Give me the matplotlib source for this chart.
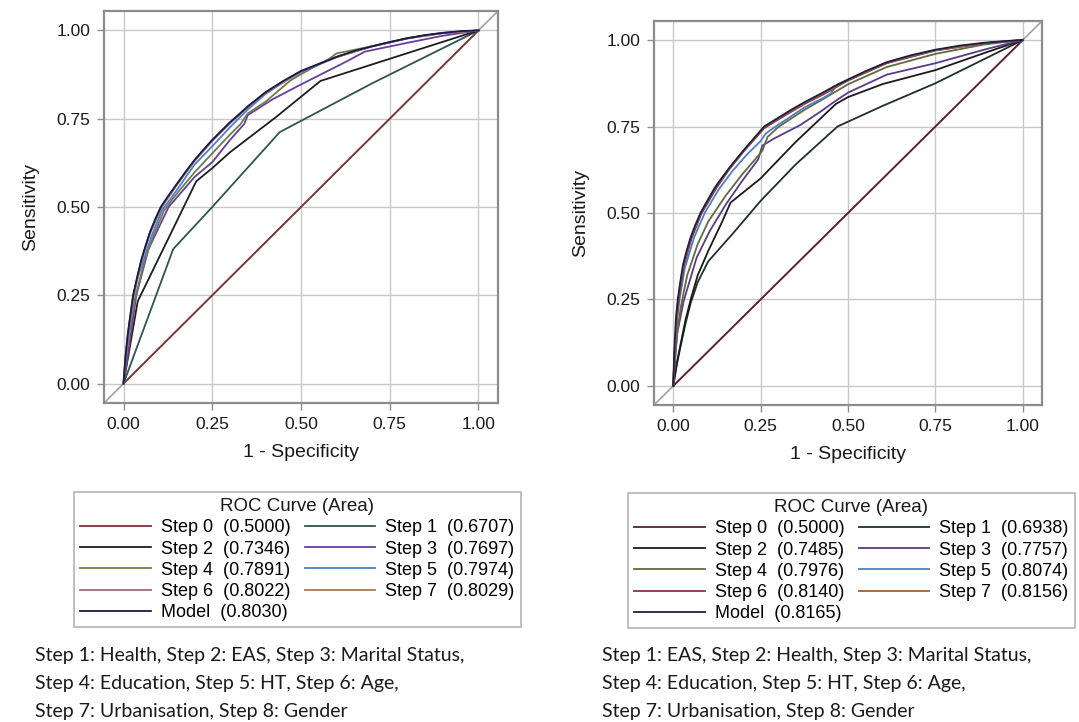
import matplotlib
matplotlib.use("Agg")
import matplotlib.pyplot as plot
import numpy as np

plot.rcParams["font.family"] = ["Liberation Sans", "DejaVu Sans"]

# ---- left panel: (1 - specificity, sensitivity) points
left_step0 = [(0, 0), (1, 1)]
left_step1 = [(0, 0), (0.14, 0.381), (0.25, 0.50), (0.44, 0.712), (0.7, 0.85), (1, 1)]
left_step2 = [(0, 0), (0.04, 0.233), (0.205, 0.573), (0.25, 0.61), (0.3, 0.655),
              (0.43, 0.755), (0.555, 0.857), (1, 1)]
left_step3 = [(0, 0), (0.015, 0.1), (0.036, 0.25), (0.07, 0.38), (0.127, 0.5), (0.2, 0.585),
              (0.25, 0.627), (0.3, 0.69), (0.34, 0.735), (0.35, 0.76), (0.42, 0.805),
              (0.5, 0.847), (0.63, 0.913), (0.68, 0.94), (0.8, 0.965), (0.9, 0.985), (1, 1)]
left_step4 = [(0, 0), (0.007, 0.07), (0.016, 0.14), (0.032, 0.24), (0.06, 0.35), (0.085, 0.42),
              (0.114, 0.49), (0.14, 0.525), (0.16, 0.55), (0.2, 0.598), (0.25, 0.652),
              (0.3, 0.705), (0.33, 0.735), (0.35, 0.765), (0.4, 0.798), (0.47, 0.858),
              (0.5, 0.876), (0.58, 0.92), (0.6, 0.935), (0.7, 0.955), (0.8, 0.977),
              (0.9, 0.992), (1, 1)]
left_step5 = [(0, 0), (0.006, 0.07), (0.014, 0.14), (0.028, 0.245), (0.04, 0.3), (0.055, 0.345),
              (0.08, 0.42), (0.108, 0.49), (0.13, 0.52), (0.155, 0.555), (0.2, 0.62),
              (0.25, 0.672), (0.3, 0.726), (0.35, 0.776), (0.4, 0.82), (0.45, 0.853),
              (0.5, 0.882), (0.6, 0.924), (0.7, 0.955), (0.8, 0.978), (0.9, 0.993), (1, 1)]
left_step6 = [(0, 0), (0.005, 0.07), (0.013, 0.14), (0.028, 0.25), (0.05, 0.345), (0.076, 0.428),
              (0.106, 0.497), (0.15, 0.562), (0.2, 0.63), (0.25, 0.687), (0.3, 0.737),
              (0.35, 0.782), (0.4, 0.823), (0.5, 0.884), (0.6, 0.925), (0.7, 0.955),
              (0.8, 0.978), (0.9, 0.993), (1, 1)]
left_step7 = [(0, 0), (0.005, 0.07), (0.012, 0.14), (0.027, 0.248), (0.05, 0.348), (0.075, 0.43),
              (0.105, 0.499), (0.15, 0.564), (0.2, 0.632), (0.25, 0.689), (0.3, 0.739),
              (0.35, 0.784), (0.4, 0.824), (0.5, 0.885), (0.6, 0.925), (0.7, 0.955),
              (0.8, 0.978), (0.9, 0.993), (1, 1)]
left_model = [(0, 0), (0.005, 0.07), (0.012, 0.14), (0.02, 0.2), (0.027, 0.25), (0.038, 0.3),
              (0.05, 0.35), (0.062, 0.39), (0.075, 0.43), (0.09, 0.467), (0.105, 0.5),
              (0.125, 0.53), (0.15, 0.565), (0.175, 0.6), (0.2, 0.633), (0.225, 0.662),
              (0.25, 0.69), (0.275, 0.715), (0.3, 0.74), (0.325, 0.762), (0.35, 0.785),
              (0.375, 0.805), (0.4, 0.825), (0.45, 0.857), (0.5, 0.885), (0.55, 0.905),
              (0.6, 0.925), (0.65, 0.942), (0.7, 0.955), (0.75, 0.967), (0.8, 0.978),
              (0.85, 0.987), (0.9, 0.993), (0.95, 0.998), (1, 1)]
left_areas = [0.5000, 0.6707, 0.7346, 0.7697, 0.7891, 0.7974, 0.8022, 0.8029, 0.8030]

# ---- right panel
right_step0 = [(0, 0), (1, 1)]
right_step1 = [(0, 0), (0.01, 0.06), (0.02, 0.11), (0.035, 0.18), (0.05, 0.24), (0.07, 0.3),
               (0.1, 0.36), (0.17, 0.44), (0.25, 0.535), (0.35, 0.64), (0.47, 0.75),
               (0.6, 0.81), (0.75, 0.875), (0.9, 0.95), (1, 1)]
right_step2 = [(0, 0), (0.01, 0.065), (0.02, 0.115), (0.035, 0.19), (0.05, 0.25), (0.07, 0.32),
               (0.1, 0.39), (0.14, 0.475), (0.164, 0.53), (0.25, 0.6), (0.35, 0.705),
               (0.465, 0.815), (0.5, 0.835), (0.6, 0.873), (0.75, 0.913), (0.9, 0.966), (1, 1)]
right_step3 = [(0, 0), (0.011, 0.15), (0.03, 0.246), (0.067, 0.371), (0.104, 0.447),
               (0.15, 0.524), (0.196, 0.591), (0.243, 0.655), (0.255, 0.695), (0.29, 0.716),
               (0.363, 0.754), (0.42, 0.792), (0.46, 0.821), (0.5, 0.848), (0.611, 0.9),
               (0.75, 0.933), (0.9, 0.975), (1, 1)]
right_step4 = [(0, 0), (0.005, 0.08), (0.012, 0.16), (0.022, 0.23), (0.04, 0.32), (0.07, 0.41),
               (0.1, 0.475), (0.13, 0.52), (0.15, 0.55), (0.2, 0.615), (0.23, 0.65),
               (0.255, 0.68), (0.27, 0.72), (0.3, 0.748), (0.375, 0.798), (0.43, 0.83),
               (0.5, 0.872), (0.611, 0.922), (0.75, 0.96), (0.889, 0.987), (1, 1)]
right_step5 = [(0, 0), (0.004, 0.09), (0.01, 0.18), (0.018, 0.25), (0.033, 0.34), (0.06, 0.43),
               (0.09, 0.5), (0.13, 0.568), (0.17, 0.622), (0.21, 0.668), (0.25, 0.708),
               (0.265, 0.73), (0.3, 0.755), (0.32, 0.768), (0.375, 0.805), (0.43, 0.833),
               (0.45, 0.845), (0.47, 0.872), (0.5, 0.884), (0.611, 0.934), (0.75, 0.97),
               (0.889, 0.99), (1, 1)]
right_step6 = [(0, 0), (0.004, 0.1), (0.011, 0.2), (0.016, 0.25), (0.03, 0.345), (0.052, 0.425),
               (0.08, 0.497), (0.122, 0.57), (0.16, 0.626), (0.2, 0.676), (0.26, 0.745),
               (0.3, 0.77), (0.375, 0.815), (0.43, 0.843), (0.5, 0.883), (0.611, 0.933),
               (0.75, 0.97), (0.889, 0.991), (1, 1)]
right_step7 = [(0, 0), (0.004, 0.1), (0.01, 0.2), (0.014, 0.25), (0.029, 0.348), (0.05, 0.428),
               (0.079, 0.5), (0.12, 0.573), (0.16, 0.628), (0.2, 0.678), (0.26, 0.748),
               (0.3, 0.773), (0.375, 0.818), (0.43, 0.846), (0.5, 0.885), (0.611, 0.935),
               (0.75, 0.971), (0.889, 0.991), (1, 1)]
right_model = [(0, 0), (0.003, 0.1), (0.008, 0.2), (0.013, 0.25), (0.02, 0.3), (0.028, 0.35),
               (0.038, 0.39), (0.05, 0.43), (0.063, 0.465), (0.078, 0.5), (0.1, 0.54),
               (0.12, 0.575), (0.14, 0.603), (0.16, 0.63), (0.18, 0.655), (0.2, 0.68),
               (0.23, 0.715), (0.26, 0.75), (0.3, 0.775), (0.34, 0.8), (0.375, 0.82),
               (0.426, 0.847), (0.46, 0.866), (0.5, 0.886), (0.55, 0.91), (0.611, 0.936),
               (0.68, 0.956), (0.75, 0.972), (0.82, 0.984), (0.889, 0.992), (0.95, 0.997), (1, 1)]
right_areas = [0.5000, 0.6938, 0.7485, 0.7757, 0.7976, 0.8074, 0.8140, 0.8156, 0.8165]

ticks = [0, 0.25, 0.5, 0.75, 1.0]
tick_labels = ["0.00", "0.25", "0.50", "0.75", "1.00"]

left_caption = ["Step 1: Health, Step 2: EAS, Step 3: Marital Status,",
                "Step 4: Education, Step 5: HT, Step 6: Age,",
                "Step 7: Urbanisation, Step 8: Gender"]
right_caption = ["Step 1: EAS, Step 2: Health, Step 3: Marital Status,",
                 "Step 4: Education, Step 5: HT, Step 6: Age,",
                 "Step 7: Urbanisation, Step 8: Gender"]

left_colors = ["#7a3535", "#2f5550", "#1e1e1e", "#6a3d9a", "#6f7c4a",
               "#4a80cc", "#9a6a88", "#a67c56", "#18184a"]
right_colors = ["#5a2030", "#1f302b", "#1a1a1a", "#5a3a8a", "#5f6a40",
                "#4a80c8", "#8a3050", "#a0603a", "#1a2040"]

W, H = 1079, 722
figure = plot.figure(figsize=(W / 100, H / 100), dpi=100)


def draw_panel(rect, curves, areas, colors, legend_pos):
    axes = figure.add_axes([rect[0] / W, 1 - rect[3] / H,
                            (rect[2] - rect[0]) / W, (rect[3] - rect[1]) / H])
    lo, hi = -0.055, 1.055
    axes.set_xlim(lo, hi)
    axes.set_ylim(lo, hi)
    # reference diagonal across the whole frame
    axes.plot([lo, hi], [lo, hi], color="#a0a0a0", linewidth=1.2, zorder=1)

    handles = []
    labels = []
    for i, (curve, area, color) in enumerate(zip(curves, areas, colors)):
        pts = np.array(curve)
        if i == len(curves) - 1:
            label = "Model  ({:.4f})".format(area)
        else:
            label = "Step {}  ({:.4f})".format(i, area)
        line, = axes.plot(pts[:, 0], pts[:, 1], color=color, linewidth=1.3, zorder=2 + i)
        handles.append(line)
        labels.append(label)

    axes.set_xticks(ticks)
    axes.set_yticks(ticks)
    axes.set_xticklabels(tick_labels)
    axes.set_yticklabels(tick_labels)
    axes.grid(color="#c8c8c8", linewidth=1.0)
    axes.set_axisbelow(True)
    for spine in axes.spines.values():
        spine.set_color("#8c8c8c")
        spine.set_linewidth(1.6)
    axes.tick_params(colors="#8c8c8c", labelcolor="#1a1a1a", labelsize=12.5,
                     length=5, width=1, pad=5)
    axes.set_xlabel("1 - Specificity", fontsize=14, color="#1a1a1a", labelpad=9)
    axes.set_ylabel("Sensitivity", fontsize=14, color="#1a1a1a", labelpad=12)

    # row-major order like the original: col 1 = steps 0,2,4,6,model
    order = [0, 2, 4, 6, 8, 1, 3, 5, 7]
    legend = axes.legend([handles[k] for k in order], [labels[k] for k in order],
                         ncol=2, loc="upper left", bbox_to_anchor=legend_pos,
                         bbox_transform=figure.transFigure, title="ROC Curve (Area)",
                         fontsize=13, title_fontsize=13.5, frameon=True, fancybox=False,
                         edgecolor="#a0a0a0", handlelength=3.9, handletextpad=0.55,
                         columnspacing=0.8, labelspacing=0.23, borderpad=0.35,
                         borderaxespad=0)
    legend.get_frame().set_linewidth(1.2)
    legend.get_title().set_color("#1a1a1a")
    return axes


draw_panel((104, 11, 498, 403),
           [left_step0, left_step1, left_step2, left_step3, left_step4,
            left_step5, left_step6, left_step7, left_model],
           left_areas, left_colors, (74 / W, 1 - 492 / H))
draw_panel((654, 21, 1042, 405),
           [right_step0, right_step1, right_step2, right_step3, right_step4,
            right_step5, right_step6, right_step7, right_model],
           right_areas, right_colors, (628 / W, 1 - 493 / H))

for x0, caption in [(35, left_caption), (602, right_caption)]:
    for k, line in enumerate(caption):
        figure.text(x0 / W, 1 - (655 + 28.5 * k) / H, line, fontsize=14,
                    family=["Lato", "DejaVu Sans"], color="#1a1a1a", va="center")

figure.savefig("out.png", dpi=100)
